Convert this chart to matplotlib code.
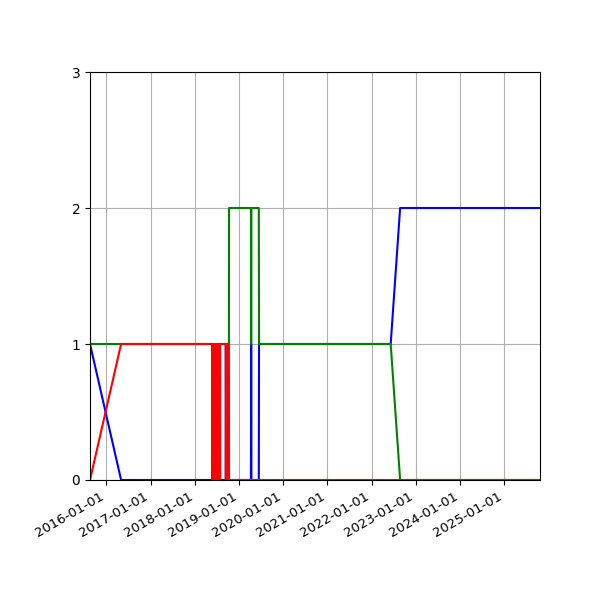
import matplotlib
matplotlib.use("Agg")
import matplotlib.pyplot as plt
import matplotlib.dates as mdates
import numpy as np

# ========================= data ========================= #
dates = [
    "2015-08-19", "2016-05-02", "2018-05-26",
    "2018-05-28", "2018-05-30", "2018-06-01", "2018-06-03", "2018-06-05",
    "2018-06-07", "2018-06-09", "2018-06-11", "2018-06-13", "2018-06-15",
    "2018-06-17", "2018-06-19", "2018-06-21", "2018-06-23", "2018-06-25",
    "2018-06-27", "2018-06-29", "2018-07-01", "2018-07-03", "2018-07-05",
    "2018-07-07", "2018-07-09", "2018-07-11", "2018-07-13", "2018-07-15",
    "2018-07-17", "2018-07-19", "2018-07-21", "2018-07-23", "2018-07-25",
    "2018-07-27", "2018-07-29",
    "2018-09-14", "2018-09-15", "2018-09-17", "2018-09-27", "2018-09-29",
    "2018-10-10", "2018-10-11",
    "2019-04-10", "2019-04-12", "2019-04-14",
    "2019-06-14", "2019-06-16",
    "2022-06-08", "2022-08-25", "2025-10-24",
]
blue = [
    1, 0, 0,
    1, 0, 1, 0, 1,
    0, 1, 0, 1, 0,
    1, 0, 1, 0, 1,
    0, 1, 0, 1, 0,
    1, 0, 1, 0, 1,
    0, 1, 0, 1, 0,
    1, 0,
    0, 1, 0, 1, 0,
    0, 0,
    0, 1, 0,
    0, 1,
    1, 2, 2,
]
green = [
    1, 1, 1,
    1, 1, 1, 1, 1,
    1, 1, 1, 1, 1,
    1, 1, 1, 1, 1,
    1, 1, 1, 1, 1,
    1, 1, 1, 1, 1,
    1, 1, 1, 1, 1,
    1, 1,
    1, 1, 1, 1, 1,
    1, 2,
    2, 1, 2,
    2, 1,
    1, 0, 0,
]
red = [
    0, 1, 1,
    0, 1, 0, 1, 0,
    1, 0, 1, 0, 1,
    0, 1, 0, 1, 0,
    1, 0, 1, 0, 1,
    0, 1, 0, 1, 0,
    1, 0, 1, 0, 1,
    0, 1,
    1, 0, 1, 0, 1,
    1, 0,
    0, 0, 0,
    0, 0,
    0, 0, 0,
]
# ======================================================== #

x = np.array(dates, dtype="datetime64[D]")

fig = plt.figure(figsize=(6, 6), dpi=100)
ax = fig.add_subplot(111)

ax.plot(x, blue, color="b")
ax.plot(x, green, color="g")
ax.plot(x, red, color="r")

ax.set_ylim(0, 3)
ax.set_yticks([0, 1, 2, 3])
ax.set_xlim(x[0], x[-1])
ax.xaxis.set_major_locator(mdates.YearLocator())
ax.xaxis.set_major_formatter(mdates.DateFormatter("%Y-%m-%d"))
ax.grid(True)

fig.autofmt_xdate()
ax.tick_params(axis="x", labelsize=9.5)
fig.subplots_adjust(left=0.15, right=0.9, top=0.88, bottom=0.2)

plt.savefig("out.png")
